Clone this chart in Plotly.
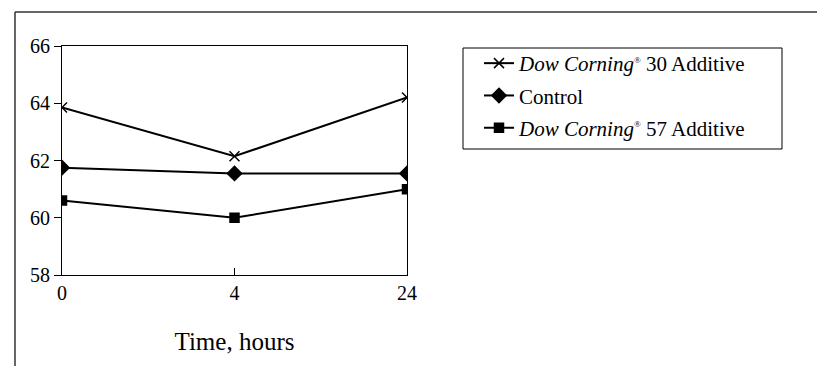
import plotly.graph_objects as go

hours = ["0", "4", "24"]
dc30 = [63.85, 62.15, 64.2]
control = [61.75, 61.55, 61.55]
dc57 = [60.6, 60.0, 61.0]
y_ticks = [58, 60, 62, 64, 66]

FONT = "Liberation Serif"
REG = "<sup><span style='font-size:9px'>®</span></sup>"

fig = go.Figure()
series = [
    ("<i>Dow Corning</i>" + REG + " 30 Additive", dc30, "x-thin-open", 10),
    ("Control", control, "diamond", 11),
    ("<i>Dow Corning</i>" + REG + " 57 Additive", dc57, "square", 9),
]
for i, (name, vals, sym, sz) in enumerate(series):
    fig.add_trace(go.Scatter(
        x=hours, y=vals, name=name, mode="lines+markers",
        legendgroup=f"g{i}",
        line=dict(color="black", width=2),
        marker=dict(symbol=sym, size=sz, color="black",
                    line=dict(color="black", width=1.5)),
    ))

W, H = 817, 366
L, R, T, B = 62, 407, 46, 275
pw, ph = R - L, B - T

def px(x):
    return (x - L) / pw

def py(y):
    return (B - y) / ph

fig.update_layout(
    width=W, height=H,
    margin=dict(l=L, r=W - R, t=T, b=H - B),
    paper_bgcolor="white", plot_bgcolor="white",
    font=dict(family=FONT, size=20, color="black"),
    showlegend=True,
    legend=dict(
        x=px(464), y=py(43), xanchor="left", yanchor="top",
        borderwidth=0,
        font=dict(family=FONT, size=21, color="black"),
        bgcolor="rgba(0,0,0,0)", traceorder="grouped", tracegroupgap=2,
        itemwidth=30, indentation=15,
        entrywidth=300, entrywidthmode="pixels",
    ),
    xaxis=dict(
        type="category", categoryorder="array", categoryarray=hours,
        range=[0, 2], showline=True, linecolor="black", linewidth=1,
        mirror=True, ticks="inside", ticklen=7, tickcolor="black",
        showgrid=False, zeroline=False,
        tickfont=dict(family=FONT, size=20),
        title=dict(text="Time, hours", font=dict(family=FONT, size=25),
                   standoff=29),
    ),
    yaxis=dict(
        range=[58, 66], tickvals=y_ticks, showline=True, linecolor="black",
        linewidth=1, mirror=True, ticks="outside", ticklen=7,
        tickcolor="black", showgrid=False, zeroline=False,
        tickfont=dict(family=FONT, size=20),
    ),
)

# legend box
fig.add_shape(type="rect", xref="paper", yref="paper",
              x0=px(463), x1=px(782), y0=py(149), y1=py(48),
              line=dict(color="black", width=1), layer="below")

# outer frame (top and left edges visible)
fig.add_shape(type="line", xref="paper", yref="paper",
              x0=px(15), x1=px(817), y0=py(12), y1=py(12),
              line=dict(color="#333", width=1.5))
fig.add_shape(type="line", xref="paper", yref="paper",
              x0=px(15), x1=px(15), y0=py(12), y1=py(366),
              line=dict(color="#333", width=1.5))

fig.write_html("out.html")
